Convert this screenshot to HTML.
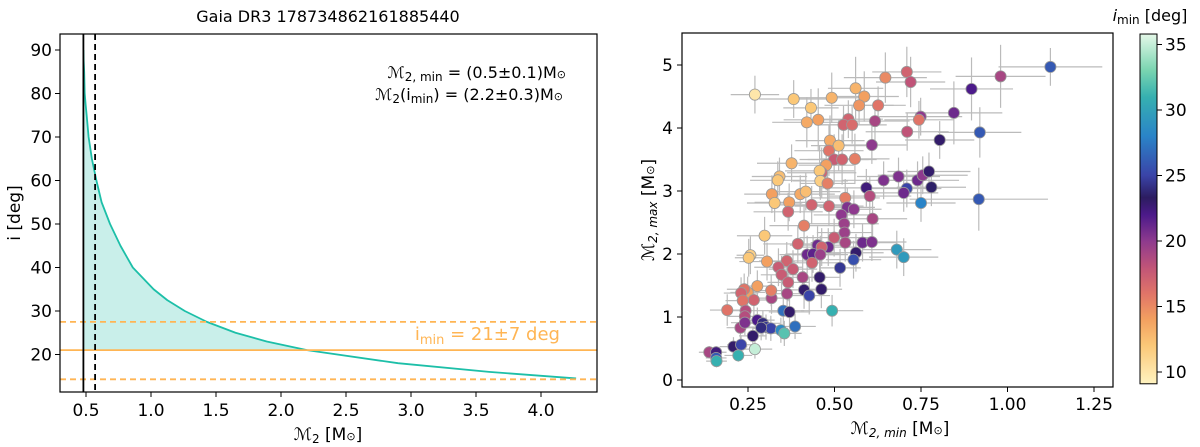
<!DOCTYPE html>
<html><head><meta charset="utf-8"><style>
html,body{margin:0;padding:0;background:#fff}
svg{display:block;font-family:"DejaVu Sans","Liberation Sans",sans-serif}
</style></head><body>
<svg id="fig" width="1200" height="447" viewBox="0 0 1200 447" xmlns="http://www.w3.org/2000/svg">
<defs>
<linearGradient id="cmap" x1="0" y1="1" x2="0" y2="0"></linearGradient>
<clipPath id="clipL"><rect x="60" y="34" width="537" height="358"/></clipPath>
<clipPath id="clipR"><rect x="682" y="33" width="431" height="354"/></clipPath>
</defs>
<g id="left"></g>
<g id="right"></g>
</svg>
<script>
// ---- Left panel data ----
const curveMass = [0.48,0.482,0.486,0.49,0.497,0.505,0.52,0.545,0.58,0.62,0.685,0.765,0.86,1.02,1.125,1.26,1.43,1.65,1.89,2.2,2.9,3.6,4.27];
const curveIncl = [90,87.5,85,80,77.5,75,70,65,60,55,50,45,40,35,32.5,30,27.5,25,23,21,18,16,14.5];
const m2min = 0.48, m2minHi = 0.57;
const iMin = 21, iMinLo = 14.3, iMinHi = 27.5;
const leftXTicks = [0.5,1.0,1.5,2.0,2.5,3.0,3.5,4.0];
const leftYTicks = [20,30,40,50,60,70,80,90];
// ---- Right panel data ----
const m2minVals = [1.124,0.98,0.896,0.845,0.92,0.804,0.917,0.709,0.72,0.647,0.749,0.744,0.71,0.617,0.626,0.608,0.561,0.586,0.571,0.492,0.382,0.27,0.432,0.42,0.453,0.54,0.526,0.551,0.487,0.512,0.484,0.499,0.522,0.559,0.476,0.463,0.457,0.459,0.48,0.376,0.341,0.336,0.319,0.327,0.369,0.366,0.401,0.417,0.434,0.484,0.531,0.592,0.602,0.642,0.685,0.709,0.7,0.74,0.755,0.773,0.78,0.75,0.537,0.556,0.52,0.528,0.61,0.529,0.412,0.298,0.394,0.499,0.531,0.581,0.608,0.451,0.482,0.463,0.421,0.438,0.459,0.435,0.562,0.555,0.68,0.7,0.516,0.257,0.252,0.305,0.362,0.338,0.38,0.347,0.366,0.408,0.457,0.412,0.427,0.462,0.363,0.318,0.317,0.277,0.249,0.239,0.23,0.267,0.235,0.19,0.243,0.493,0.352,0.37,0.241,0.277,0.228,0.241,0.293,0.302,0.316,0.288,0.345,0.355,0.386,0.264,0.208,0.23,0.27,0.222,0.138,0.158,0.158,0.159];
const m2maxVals = [4.97,4.82,4.62,4.24,3.93,3.81,2.87,4.89,4.73,4.80,4.18,4.13,3.94,4.11,4.36,3.73,4.63,4.50,4.36,4.48,4.46,4.53,4.32,4.09,4.13,4.14,4.05,4.05,3.80,3.72,3.64,3.50,3.50,3.51,3.41,3.29,3.32,3.16,3.12,3.44,3.23,3.17,2.95,2.81,2.82,2.67,2.95,2.99,2.78,2.76,2.89,3.05,2.92,3.17,3.23,3.04,2.97,3.17,3.25,3.31,3.06,2.81,2.74,2.71,2.62,2.48,2.56,2.34,2.45,2.29,2.16,2.26,2.18,2.18,2.19,2.14,2.11,2.11,1.99,2.00,1.99,1.86,2.02,1.91,2.07,1.95,1.78,1.98,1.94,1.88,1.89,1.79,1.76,1.67,1.55,1.63,1.63,1.43,1.34,1.44,1.37,1.30,1.42,1.49,1.39,1.44,1.38,1.27,1.26,1.11,1.10,1.10,1.10,1.08,1.01,0.95,0.83,0.91,0.90,0.84,0.82,0.83,0.79,0.74,0.85,0.70,0.53,0.56,0.49,0.39,0.44,0.44,0.35,0.30];
const iminVals = [26,19,22,21,26,23,26,17,18,15,20,16,18,19,16,20,13,14,14.5,13,12,10,12,13.5,14,17,17,16.5,13.5,12.5,16,17.5,17,15.5,14,17,12,11.5,15.5,13,12.5,12,14,12,14,17,13.5,12.5,17,17,15.5,22.5,18.5,20.5,20.5,25,21,21,20,23,23.5,28,20.5,20,20,19.5,19,19.5,15.5,12,17,17.5,19,21,20.5,21,21,17,21,21.5,19.5,17,23,25.5,29.5,29.5,24.5,11.5,12,14,17,17.5,17.5,17.5,17.5,19,23,23,25,23,19,19,15.5,14,14,16,17,17,16,16,18.5,31,27,23,18.5,22,19,20.5,24,24.5,25,24,28.5,32,27,23,23,25,35,31,19,22.5,26,31];
const xErr = [0.15,0.13,0.12,0.14,0.12,0.1,0.2,0.1,0.1,0.12,0.12,0.1,0.12,0.1,0.08,0.1,0.08,0.1,0.1,0.1,0.1,0.07,0.08,0.1,0.1,0.1,0.08,0.1,0.1,0.08,0.1,0.1,0.1,0.1,0.08,0.1,0.1,0.08,0.08,0.1,0.08,0.08,0.08,0.08,0.1,0.1,0.1,0.1,0.1,0.1,0.1,0.13,0.12,0.12,0.12,0.1,0.1,0.12,0.13,0.12,0.1,0.1,0.08,0.08,0.08,0.1,0.1,0.08,0.1,0.08,0.1,0.1,0.1,0.1,0.1,0.08,0.08,0.08,0.08,0.08,0.08,0.08,0.08,0.08,0.1,0.1,0.06,0.04,0.04,0.08,0.08,0.07,0.07,0.06,0.06,0.07,0.06,0.06,0.06,0.06,0.05,0.05,0.05,0.05,0.05,0.05,0.05,0.05,0.05,0.05,0.05,0.09,0.06,0.06,0.05,0.05,0.04,0.04,0.05,0.05,0.05,0.05,0.05,0.05,0.06,0.04,0.04,0.04,0.05,0.04,0.03,0.03,0.03,0.03];
const yErr = [0.3,0.5,0.5,0.5,0.4,0.3,0.5,0.4,0.4,0.4,0.3,0.3,0.3,0.3,0.3,0.3,0.5,0.4,0.3,0.4,0.3,0.3,0.3,0.4,0.5,0.3,0.3,0.3,0.4,0.4,0.4,0.4,0.4,0.4,0.4,0.4,0.4,0.3,0.3,0.3,0.3,0.3,0.3,0.3,0.3,0.3,0.3,0.3,0.3,0.3,0.3,0.3,0.3,0.3,0.3,0.3,0.3,0.3,0.3,0.3,0.3,0.3,0.3,0.3,0.3,0.3,0.3,0.3,0.3,0.3,0.3,0.3,0.3,0.3,0.3,0.3,0.3,0.3,0.3,0.3,0.3,0.3,0.3,0.3,0.3,0.3,0.3,0.3,0.3,0.3,0.3,0.3,0.3,0.3,0.3,0.3,0.3,0.3,0.3,0.3,0.25,0.25,0.25,0.25,0.25,0.25,0.25,0.25,0.25,0.25,0.25,0.25,0.25,0.25,0.2,0.2,0.2,0.2,0.2,0.2,0.2,0.2,0.2,0.2,0.2,0.15,0.15,0.15,0.15,0.1,0.1,0.1,0.1,0.1];
const rightXTicks = [0.25,0.50,0.75,1.00,1.25];
const rightYTicks = [0,1,2,3,4,5];
const cbarTicks = [10,15,20,25,30,35];

const NS='http://www.w3.org/2000/svg';
function mk(tag, attrs, parent){const e=document.createElementNS(NS,tag);for(const k in attrs)e.setAttribute(k,attrs[k]);parent.appendChild(e);return e;}
const cmStops=[[9.1,'#fff3c0'],[12,'#fbc878'],[14,'#f3a060'],[16,'#e07468'],[18,'#c05478'],[20,'#8e3a8e'],[22,'#4c1a8a'],[23.3,'#2c1c60'],[25,'#3a44a8'],[28,'#2a84c8'],[31,'#36b0b0'],[33,'#78d4b0'],[35.8,'#e4f8e8']];
function hex2rgb(h){return [1,3,5].map(i=>parseInt(h.substr(i,2),16));}
function cmap(v){if(v<=cmStops[0][0])return cmStops[0][1];for(let i=1;i<cmStops.length;i++){if(v<=cmStops[i][0]){const a=cmStops[i-1],b=cmStops[i];const t=(v-a[0])/(b[0]-a[0]);const ca=hex2rgb(a[1]),cb=hex2rgb(b[1]);return 'rgb('+ca.map((c,j)=>Math.round(c+(cb[j]-c)*t)).join(',')+')';}}return cmStops[cmStops.length-1][1];}
const grad=document.getElementById('cmap');
cmStops.forEach(s=>{mk('stop',{offset:((s[0]-9.1)/(35.8-9.1)).toFixed(3),'stop-color':s[1]},grad);});

// ---------- LEFT ----------
const L=document.getElementById('left');
const xL=m=>86+(m-0.5)*130, yL=i=>50+(90-i)*4.35;
const gL=mk('g',{'clip-path':'url(#clipL)'},L);
let fillPts=[];
for(let k=0;k<curveMass.length;k++){ if(curveIncl[k]>=iMin) fillPts.push([xL(curveMass[k]),yL(curveIncl[k])]); }
fillPts.push([xL(m2min),yL(iMin)]);
const fill=mk('path',{d:'M'+fillPts.map(p=>p.join(',')).join(' L')+'Z',fill:'#c9efea',stroke:'none'},gL);


const cp=curveMass.map((m,k)=>[xL(m),yL(curveIncl[k])]);
let d='M'+cp.map(p=>p[0].toFixed(2)+','+p[1].toFixed(2)).join(' L');
const curve=mk('path',{d:d,fill:'none',stroke:'#1dbfa8','stroke-width':1.8,'stroke-linejoin':'round'},gL);


[[iMinHi,'6,4'],[iMin,''],[iMinLo,'6,4']].forEach((o,k)=>{const ln=mk('line',{x1:60,x2:597,y1:yL(o[0]),y2:yL(o[0]),stroke:'#ffb554','stroke-width':1.8,'stroke-dasharray':o[1]},gL);

});
const v1=mk('line',{x1:xL(m2min),x2:xL(m2min),y1:34,y2:392,stroke:'#000','stroke-width':1.8},gL);


const v2=mk('line',{x1:xL(m2minHi),x2:xL(m2minHi),y1:34,y2:392,stroke:'#000','stroke-width':1.8,'stroke-dasharray':'6,4'},gL);


const frL=mk('rect',{x:60,y:34,width:537,height:358,fill:'none',stroke:'#000','stroke-width':1.2},L);


leftXTicks.forEach(t=>{mk('line',{x1:xL(t),x2:xL(t),y1:392,y2:397,stroke:'#000'},L);
const tx=mk('text',{x:xL(t),y:416,'text-anchor':'middle','font-size':17},L);tx.textContent=t.toFixed(1);

});
leftYTicks.forEach(t=>{mk('line',{x1:55,x2:60,y1:yL(t),y2:yL(t),stroke:'#000'},L);
const tx=mk('text',{x:52,y:yL(t)+6,'text-anchor':'end','font-size':17},L);tx.textContent=t;

});
</script>
<script>
(function(){const L=document.getElementById('left');
L.insertAdjacentHTML('beforeend',
'<text x="328" y="22" text-anchor="middle" font-size="16">Gaia DR3 178734862161885440</text>'+
'<text x="0" y="0" transform="translate(20,213) rotate(-90)" text-anchor="middle" font-size="17">i [deg]</text>'+
'<text x="328" y="440" text-anchor="middle" font-size="17"><tspan font-style="italic">ℳ</tspan><tspan font-size="12" dy="3">2</tspan><tspan dy="-3"> [M</tspan><tspan font-size="11">⊙</tspan>]</text>'+
'<text x="566" y="78" text-anchor="end" font-size="16"><tspan font-style="italic">ℳ</tspan><tspan font-size="12" dy="3">2, min</tspan><tspan dy="-3"> = (0.5±0.1)M</tspan><tspan font-size="11">⊙</tspan></text>'+
'<text x="563" y="100" text-anchor="end" font-size="16"><tspan font-style="italic">ℳ</tspan><tspan font-size="12" dy="3">2</tspan><tspan dy="-3">(i</tspan><tspan font-size="12" dy="3">min</tspan><tspan dy="-3">) = (2.2±0.3)M</tspan><tspan font-size="11">⊙</tspan></text>'+
'<text x="560" y="340" text-anchor="end" font-size="18" fill="#ffb554">i<tspan font-size="13" dy="4">min</tspan><tspan dy="-4"> = 21±7 deg</tspan></text>');})();
</script>
<script>
(function(){
const R=document.getElementById('right');
const xR=v=>748+(v-0.25)*346, yR=v=>380-v*63;
const g=mk('g',{'clip-path':'url(#clipR)'},R);
const eb=mk('g',{stroke:'#bbbbbb','stroke-width':1.2},g);
for(let k=0;k<m2minVals.length;k++){
 const x=xR(m2minVals[k]),y=yR(m2maxVals[k]);
 const h=mk('line',{x1:xR(m2minVals[k]-xErr[k]),x2:xR(m2minVals[k]+xErr[k]),y1:y,y2:y},eb);
 
 
 const v=mk('line',{x1:x,x2:x,y1:yR(m2maxVals[k]-yErr[k]),y2:yR(m2maxVals[k]+yErr[k])},eb);
 
 
}
for(let k=0;k<m2minVals.length;k++){
 const c=mk('circle',{cx:xR(m2minVals[k]),cy:yR(m2maxVals[k]),r:5.6,fill:cmap(iminVals[k]),stroke:'#999','stroke-width':0.8},g);
 
 
}
const fr=mk('rect',{x:682,y:33,width:431,height:354,fill:'none',stroke:'#000','stroke-width':1.2},R);


rightXTicks.forEach(t=>{mk('line',{x1:xR(t),x2:xR(t),y1:387,y2:392,stroke:'#000'},R);
const tx=mk('text',{x:xR(t),y:410,'text-anchor':'middle','font-size':17},R);tx.textContent=t.toFixed(2);

});
rightYTicks.forEach(t=>{mk('line',{x1:677,x2:682,y1:yR(t),y2:yR(t),stroke:'#000'},R);
const tx=mk('text',{x:673,y:yR(t)+6,'text-anchor':'end','font-size':17},R);tx.textContent=t;

});
const yC=v=>372-(v-10)*13.1;
const cb=mk('rect',{x:1140,y:yC(35.8),width:17,height:yC(9.1)-yC(35.8),fill:'url(#cmap)',stroke:'#000','stroke-width':1},R);


cbarTicks.forEach(t=>{mk('line',{x1:1157,x2:1162,y1:yC(t),y2:yC(t),stroke:'#000'},R);
const tx=mk('text',{x:1165,y:yC(t)+6,'font-size':17},R);tx.textContent=t;

});
R.insertAdjacentHTML('beforeend',
'<text x="0" y="0" transform="translate(654,210) rotate(-90)" text-anchor="middle" font-size="17"><tspan font-style="italic">ℳ</tspan><tspan font-size="12" dy="3" font-style="italic">2, max</tspan><tspan dy="-3"> [M</tspan><tspan font-size="11">⊙</tspan>]</text>'+
'<text x="900" y="434" text-anchor="middle" font-size="17"><tspan font-style="italic">ℳ</tspan><tspan font-size="12" dy="3" font-style="italic">2, min</tspan><tspan dy="-3"> [M</tspan><tspan font-size="11">⊙</tspan>]</text>'+
'<text x="1150" y="21" text-anchor="middle" font-size="16"><tspan font-style="italic">i</tspan><tspan font-size="12" dy="3">min</tspan><tspan dy="-3"> [deg]</tspan></text>');
})();
</script>
</body></html>
